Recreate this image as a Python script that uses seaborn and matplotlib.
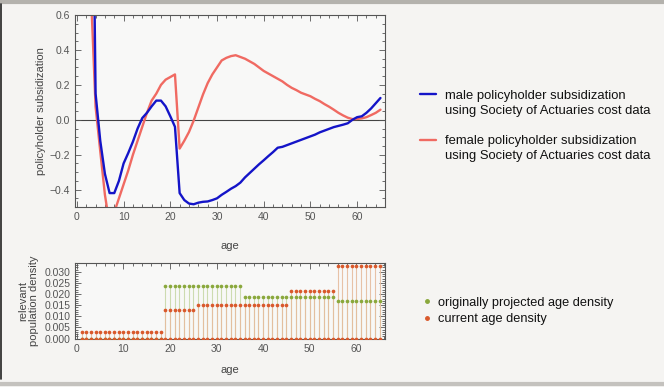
import numpy as np
import pandas as pd
import matplotlib.pyplot as plt
from matplotlib.lines import Line2D
from matplotlib.ticker import MultipleLocator
import seaborn as sns

# subsidization curves, ages 3..65
ages_top = list(range(3, 66))
male_sub = [2.4, 0.15, -0.12, -0.31, -0.42, -0.42, -0.35, -0.25, -0.19, -0.125, -0.05,
            0.01, 0.04, 0.077, 0.11, 0.11, 0.077, 0.02, -0.04, -0.42, -0.46, -0.48,
            -0.484, -0.475, -0.47, -0.468, -0.46, -0.45, -0.43, -0.413, -0.395, -0.38,
            -0.36, -0.33, -0.305, -0.28, -0.255, -0.232, -0.208, -0.185, -0.16, -0.155,
            -0.145, -0.135, -0.125, -0.115, -0.105, -0.095, -0.085, -0.072, -0.062,
            -0.052, -0.042, -0.035, -0.028, -0.02, 0.0, 0.015, 0.02, 0.04, 0.065, 0.095,
            0.125]
female_sub = [0.73, 0.075, -0.18, -0.43, -0.6, -0.53, -0.45, -0.37, -0.29, -0.2, -0.12,
              -0.04, 0.04, 0.11, 0.15, 0.2, 0.23, 0.245, 0.26, -0.165, -0.12, -0.07,
              -0.005, 0.07, 0.145, 0.21, 0.26, 0.3, 0.34, 0.355, 0.365, 0.37, 0.36, 0.35,
              0.335, 0.32, 0.3, 0.28, 0.265, 0.25, 0.235, 0.22, 0.2, 0.183, 0.17, 0.155,
              0.145, 0.135, 0.12, 0.107, 0.09, 0.075, 0.058, 0.04, 0.025, 0.012, 0.004,
              0.005, 0.008, 0.015, 0.027, 0.04, 0.058]

# age densities, ages 1..65
ages_bot = list(range(1, 66))
projected = [0.0] * 18 + [0.0235] * 17 + [0.0185] * 20 + [0.0168] * 10
current = [0.003] * 18 + [0.0127] * 7 + [0.015] * 20 + [0.0215] * 10 + [0.0325] * 10

top_df = pd.DataFrame({'age': ages_top + ages_top,
                       'value': male_sub + female_sub,
                       'series': ['male'] * len(ages_top) + ['female'] * len(ages_top)})
bot_df = pd.DataFrame({'age': ages_bot, 'projected': projected, 'current': current})

sns.set_style('ticks')
plt.rcParams['font.family'] = ['Liberation Sans', 'DejaVu Sans']

bg = '#f5f4f2'
tick_col = '#555555'
blue = '#1414c8'
red = '#f06a62'
green = '#8aa83c'
orange = '#d9592c'

fig = plt.figure(figsize=(6.64, 3.87), dpi=100, facecolor=bg)
ax1 = fig.add_axes([0.113, 0.465, 0.467, 0.496])
ax2 = fig.add_axes([0.113, 0.124, 0.467, 0.196])

def style_axes(ax):
    ax.set_facecolor('#f8f8f7')
    for s in ax.spines.values():
        s.set_color('#555555')
        s.set_linewidth(0.8)
        s.set_visible(True)
    ax.tick_params(which='both', direction='in', top=True, right=True,
                   colors='#555555', labelcolor=tick_col, labelsize=7.5, width=0.6)
    ax.tick_params(which='major', length=4)
    ax.tick_params(which='minor', length=2)

# top: subsidization curves
sns.lineplot(data=top_df, x='age', y='value', hue='series', palette={'male': blue, 'female': red},
             hue_order=['female', 'male'], linewidth=1.7, ax=ax1, legend=False)
ax1.axhline(0, color='#444444', linewidth=0.8, zorder=0)
ax1.set_xlim(-0.4, 66)
ax1.set_ylim(-0.5, 0.6)
ax1.xaxis.set_major_locator(MultipleLocator(10))
ax1.xaxis.set_minor_locator(MultipleLocator(2))
ax1.yaxis.set_minor_locator(MultipleLocator(0.05))
ax1.set_yticks([-0.4, -0.2, 0.0, 0.2, 0.4, 0.6])
ax1.set_yticklabels(['\u22120.4', '\u22120.2', '0.0', '0.2', '0.4', '0.6'])
ax1.set_xlabel('age', fontsize=8, color='#444444', labelpad=14)
ax1.set_ylabel('policyholder subsidization', fontsize=8, color='#444444', labelpad=3)
style_axes(ax1)

# bottom: stems and dots
ax2.vlines(bot_df['age'], 0, bot_df['projected'], color='#cddbb0', linewidth=0.8, zorder=1)
ax2.vlines(bot_df['age'], 0, bot_df['current'], color='#e6bc9e', linewidth=0.8, alpha=0.9, zorder=2)
sns.scatterplot(data=bot_df, x='age', y='projected', color=green, s=7, linewidth=0, ax=ax2, zorder=3)
sns.scatterplot(data=bot_df, x='age', y='current', color=orange, s=7, linewidth=0, ax=ax2, zorder=4)
sns.scatterplot(x=bot_df['age'], y=np.zeros(len(bot_df)), color=orange, s=7, linewidth=0, ax=ax2, zorder=4)
ax2.set_xlim(-0.4, 66.2)
ax2.set_ylim(-0.0002, 0.0339)
ax2.xaxis.set_major_locator(MultipleLocator(10))
ax2.xaxis.set_minor_locator(MultipleLocator(2))
ax2.set_yticks([0.0, 0.005, 0.010, 0.015, 0.020, 0.025, 0.030])
ax2.set_yticklabels(['0.000', '0.005', '0.010', '0.015', '0.020', '0.025', '0.030'])
ax2.yaxis.set_minor_locator(MultipleLocator(0.001))
ax2.set_xlabel('age', fontsize=8, color='#444444', labelpad=8)
ax2.set_ylabel('relevant\npopulation density', fontsize=8, color='#444444', labelpad=4,
               linespacing=1.0)
style_axes(ax2)

# legends: the line sits next to the first line of each two-line label
blank = Line2D([], [], color='none')
for col, who, yc in [(blue, 'male', 0.733), (red, 'female', 0.616)]:
    leg = fig.legend([Line2D([], [], color=col, linewidth=1.7), blank],
                     [f'{who} policyholder subsidization', 'using Society of Actuaries cost data'],
                     loc='center left', bbox_to_anchor=(0.615, yc), frameon=False,
                     fontsize=9.4, handlelength=1.2, handletextpad=0.7,
                     labelspacing=0.2, labelcolor='#111111')

bot_handles = [Line2D([], [], color=green, marker='o', markersize=2.5, linestyle='none'),
               Line2D([], [], color=orange, marker='o', markersize=2.5, linestyle='none')]
bot_labels = ['originally projected age density', 'current age density']
fig.legend(bot_handles, bot_labels, loc='center left', bbox_to_anchor=(0.618, 0.197),
           frameon=False, fontsize=9.2, handlelength=0.8, handletextpad=0.5,
           labelspacing=0.35, labelcolor='#111111')

# picture border
fig.add_artist(Line2D([0, 1], [0.995, 0.995], color='#b4b2ad', linewidth=3, transform=fig.transFigure))
fig.add_artist(Line2D([0.001, 0.001], [0.02, 0.99], color='#222222', linewidth=1.2, transform=fig.transFigure))
fig.add_artist(Line2D([0, 1], [0.008, 0.008], color='#c4c2be', linewidth=3, transform=fig.transFigure))

fig.savefig('out.png', dpi=100, facecolor=bg)
